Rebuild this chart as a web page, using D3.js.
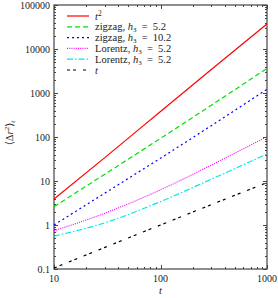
<!DOCTYPE html>
<html>
<head>
<meta charset="utf-8">
<script src="https://cdn.jsdelivr.net/npm/d3@7"></script>
<style>
  body { margin: 0; background: #fff; }
  text { font-family: "Liberation Serif", "DejaVu Serif", serif; fill: #222; }
</style>
</head>
<body>
<div id="chart"></div>
<script>
// time points the values were read at
const tValues = [10, 30, 100, 300, 1000];

const tSquared = [3.9, 34, 380, 3420, 37000];
const zigzag52 = [2.6, 14.3, 93, 527, 3640];
const zigzag102 = [1.0, 5.3, 33, 181, 1213];
const lorentzA = [0.74, 1.85, 6.3, 23, 102];
const lorentzB = [0.56, 1.12, 3.4, 11, 41];
const tLinear = [0.105, 0.31, 1.0, 2.9, 9.2];

const yTickValues = [0.1, 1, 10, 100, 1000, 10000, 100000];
const xTickValues = [10, 100, 1000];

const series = [
    { key: "t2", values: tSquared, color: "#ff0000", dash: null },
    { key: "zz52", values: zigzag52, color: "#00e000", dash: "5,3" },
    { key: "zz102", values: zigzag102, color: "#0000ff", dash: "2,3" },
    { key: "lo1", values: lorentzA, color: "#ff00ff", dash: "1,1.2" },
    { key: "lo2", values: lorentzB, color: "#00e8e8", dash: "6,2,1.5,2" },
    { key: "t", values: tLinear, color: "#000000", dash: "3,3,3,7" }
];

const width = 278, height = 298;
const margin = { top: 5, right: 11, bottom: 29, left: 54 };

const svg = d3.select("#chart").append("svg")
    .attr("width", width)
    .attr("height", height);

const x = d3.scaleLog().domain([10, 1000]).range([margin.left, width - margin.right]);
const y = d3.scaleLog().domain([0.1, 100000]).range([height - margin.bottom, margin.top]);

// minor ticks 2..9 in each decade
function minors(domain) {
    const out = [];
    for (let d = domain[0]; d < domain[1]; d *= 10) {
        for (let k = 2; k <= 9; k++) out.push(d * k);
    }
    return out;
}
const xMinor = minors([10, 1000]);
const yMinor = minors([0.1, 100000]);

const axisColor = "#444";
const ticks = svg.append("g").attr("stroke", axisColor).attr("stroke-width", 1);

// x ticks on bottom and top, pointing inward
[[xTickValues, 4], [xMinor, 2]].forEach(([vals, len]) => {
    ticks.selectAll(null).data(vals).join("line")
        .attr("x1", d => Math.round(x(d)) + 0.5).attr("x2", d => Math.round(x(d)) + 0.5)
        .attr("y1", y.range()[0]).attr("y2", y.range()[0] - len);
    ticks.selectAll(null).data(vals).join("line")
        .attr("x1", d => Math.round(x(d)) + 0.5).attr("x2", d => Math.round(x(d)) + 0.5)
        .attr("y1", y.range()[1]).attr("y2", y.range()[1] + len);
});
[[yTickValues, 4], [yMinor, 2]].forEach(([vals, len]) => {
    ticks.selectAll(null).data(vals).join("line")
        .attr("y1", d => Math.round(y(d)) + 0.5).attr("y2", d => Math.round(y(d)) + 0.5)
        .attr("x1", x.range()[0]).attr("x2", x.range()[0] + len);
    ticks.selectAll(null).data(vals).join("line")
        .attr("y1", d => Math.round(y(d)) + 0.5).attr("y2", d => Math.round(y(d)) + 0.5)
        .attr("x1", x.range()[1]).attr("x2", x.range()[1] - len);
});

// frame
svg.append("rect")
    .attr("x", x.range()[0]).attr("y", y.range()[1])
    .attr("width", x.range()[1] - x.range()[0])
    .attr("height", y.range()[0] - y.range()[1])
    .attr("fill", "none").attr("stroke", axisColor).attr("stroke-width", 1.2);

// tick labels
svg.append("g").selectAll("text").data(xTickValues).join("text")
    .attr("x", d => x(d)).attr("y", height - margin.bottom + 13)
    .attr("text-anchor", "middle").style("font-size", "10px")
    .text(d => d);

svg.append("g").selectAll("text").data(yTickValues).join("text")
    .attr("x", x.range()[0] - 4).attr("y", d => y(d) + 3.5)
    .attr("text-anchor", "end").style("font-size", "10px")
    .text(d => d);

// axis titles
svg.append("text")
    .attr("x", x(100)).attr("y", 294)
    .attr("text-anchor", "middle").style("font-size", "10.5px").style("font-style", "italic")
    .text("t");

const yTitle = svg.append("text")
    .attr("transform", `translate(13,${y(100) - 4}) rotate(-90)`)
    .attr("text-anchor", "middle").style("font-size", "10.5px");
yTitle.append("tspan").text("⟨Δ");
yTitle.append("tspan").style("font-style", "italic").text("r");
yTitle.append("tspan").attr("dy", -4).style("font-size", "7px").text("2");
yTitle.append("tspan").attr("dy", 4).text("⟩");
yTitle.append("tspan").attr("dy", 2).style("font-size", "7px").style("font-style", "italic").text("t");

// curves
const line = d3.line()
    .x(d => x(d[0]))
    .y(d => y(d[1]))
    .curve(d3.curveMonotoneX);

svg.append("g").selectAll("path").data(series).join("path")
    .attr("d", s => line(tValues.map((t, i) => [t, s.values[i]])))
    .attr("fill", "none")
    .attr("stroke", s => s.color)
    .attr("stroke-width", 1.2)
    .attr("stroke-dasharray", s => s.dash);

// legend
const eq = "\u2002=\u2002";
const legendRows = [
    { s: series[0], parts: [["t", "it"], ["2", "sup"]] },
    { s: series[1], parts: [["zigzag, ", ""], ["h", "it"], ["3", "sub"], [eq + "5.2", ""]] },
    { s: series[2], parts: [["zigzag, ", ""], ["h", "it"], ["3", "sub"], [eq + "10.2", ""]] },
    { s: series[3], parts: [["Lorentz, ", ""], ["h", "it"], ["3", "sub"], [eq + "5.2", ""]] },
    { s: series[4], parts: [["Lorentz, ", ""], ["h", "it"], ["3", "sub"], [eq + "5.2", ""]] },
    { s: series[5], parts: [["t", "it"]] }
];

const legend = svg.append("g");
legendRows.forEach((row, i) => {
    const ly = 16 + i * 10.8;
    legend.append("line")
        .attr("x1", 67).attr("x2", 89).attr("y1", ly).attr("y2", ly)
        .attr("stroke", row.s.color).attr("stroke-width", 1.2)
        .attr("stroke-dasharray", row.s.dash);
    const txt = legend.append("text")
        .attr("x", 95).attr("y", ly + 3.5).style("font-size", "10.5px");
    let shift = 0;
    row.parts.forEach(([str, kind]) => {
        const ts = txt.append("tspan").text(str);
        let dy = 0;
        if (kind === "it") ts.style("font-style", "italic");
        if (kind === "sup") { dy = -4; ts.style("font-size", "7.5px"); }
        if (kind === "sub") { dy = 2; ts.style("font-size", "7px"); }
        ts.attr("dy", dy - shift);
        shift = dy;
    });
});
</script>
</body>
</html>
